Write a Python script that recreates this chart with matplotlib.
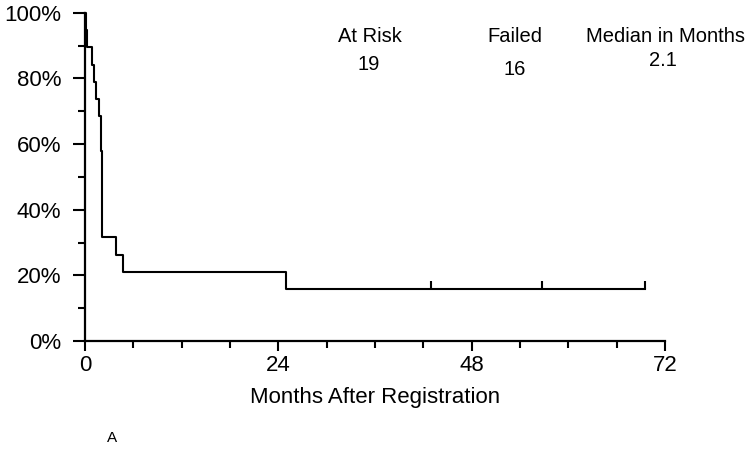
import numpy as np
import matplotlib
matplotlib.use('Agg')
import matplotlib.pyplot as plt
from matplotlib.ticker import MultipleLocator, FuncFormatter

plt.rcParams['font.family'] = ['Liberation Sans', 'DejaVu Sans']

# KM data
n_at_risk = 19
event_times = [0.12, 0.3, 0.85, 1.15, 1.4, 1.75, 1.95, 2.05, 2.15, 3.85, 4.75, 25.0]
event_counts = [1, 1, 1, 1, 1, 1, 2, 3, 2, 1, 1, 1]
censor_times = [43.0, 56.7, 69.5]

header_labels = ['At Risk', 'Failed', 'Median in Months']
header_values = ['19', '16', '2.1']

# survival steps
t = [0.0]
s = [1.0]
alive = n_at_risk
for tt, d in zip(event_times, event_counts):
    alive -= d
    t.append(tt)
    s.append(alive / n_at_risk)
t.append(censor_times[-1])
s.append(s[-1])
t = np.array(t); s = np.array(s)

cens_s = [s[np.searchsorted(t, c, side='right') - 1] for c in censor_times]

fig = plt.figure(figsize=(7.5, 4.58), dpi=100)
ax = fig.add_axes([85/750, 1 - 341/458, 580/750, (341 - 12.7)/458])

ax.step(t, s, where='post', color='black', lw=1.5, clip_on=False)
ax.plot(censor_times, cens_s, ls='none', marker=2, ms=6, mew=1.5, color='black', clip_on=False)

ax.set_xlim(0, 72)
ax.set_ylim(0, 1)
for side in ['top', 'right']:
    ax.spines[side].set_visible(False)
for side in ['left', 'bottom']:
    ax.spines[side].set_linewidth(1.6)

ax.xaxis.set_major_locator(MultipleLocator(24))
ax.xaxis.set_minor_locator(MultipleLocator(6))
ax.yaxis.set_major_locator(MultipleLocator(0.2))
ax.yaxis.set_minor_locator(MultipleLocator(0.1))
ax.yaxis.set_major_formatter(FuncFormatter(lambda v, p: f'{v*100:.0f}%'))

ax.tick_params(axis='both', which='major', direction='out', width=1.5, labelsize=16)
ax.tick_params(axis='y', which='major', length=9, pad=8)
ax.tick_params(axis='y', which='minor', length=5, width=1.5)
ax.tick_params(axis='x', which='major', length=7, pad=3)
ax.tick_params(axis='x', which='minor', length=5, width=1.5)

ax.set_xlabel('Months After Registration', fontsize=16, labelpad=8)

xs = [370, 515, 665]
val_xs = [369, 515, 663]
val_ys = [70, 75, 66.5]
for x, lab in zip(xs, header_labels):
    fig.text(x/750, 1 - 42/458, lab, ha='center', va='baseline', fontsize=14.5)
for x, y, val in zip(val_xs, val_ys, header_values):
    fig.text(x/750, 1 - y/458, val, ha='center', va='baseline', fontsize=14.5)

fig.text(112/750, 1 - 438/458, 'A', ha='center', va='center', fontsize=11)

fig.savefig('out.png', dpi=100)
